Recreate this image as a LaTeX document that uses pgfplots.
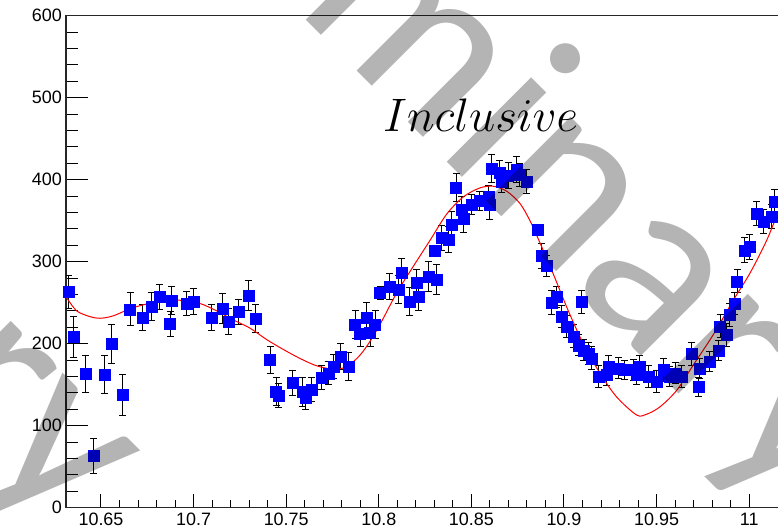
\RequirePackage{fix-cm}
\documentclass[border=0pt]{standalone}
\usepackage{fontspec}
\setmainfont{Liberation Sans}
\newfontfamily\wmfont{Carlito}
\usepackage{pgfplots}
\pgfplotsset{compat=1.18}
\usepackage{pgfplotstable}
\definecolor{wmgray}{RGB}{180,180,180}

\pgfplotstableread{
x y e
10.6323 263 20
10.6350 208 25
10.6418 163 22
10.6462 63 21
10.6520 162 23
10.6556 200 24
10.6615 138 25
10.6657 242 20
10.6723 232 16
10.6774 245 17
10.6815 257 15
10.6873 224 15
10.6882 253 17
10.6963 249 15
10.6998 251 16
10.7098 232 16
10.7157 243 18
10.7187 227 16
10.7241 239 15
10.7295 259 18
10.7335 231 17
10.7413 180 16
10.7445 142 17
10.7460 137 15
10.7535 152 15
10.7589 141 18
10.7605 134 14
10.7638 144 15
10.7690 159 15
10.7727 164 14
10.7755 172 15
10.7794 184 16
10.7838 172 17
10.7872 223 17
10.7899 212 16
10.7935 232 18
10.7953 213 17
10.7980 223 17
10.8007 262 8
10.8060 270 16
10.8105 266 17
10.8124 286 18
10.8168 251 17
10.8205 274 17
10.8213 257 17
10.8267 282 18
10.8312 278 18
10.8303 313 4
10.8339 329 15
10.8375 327 16
10.8393 345 16
10.8417 390 17
10.8447 363 16
10.8456 353 17
10.8501 370 12
10.8546 374 12
10.8592 379 14
10.8600 369 17
10.8610 414 17
10.8654 408 16
10.8663 398 14
10.8698 405 16
10.8745 412 16
10.8762 406 14
10.8800 398 15
10.8860 339 4
10.8879 307 15
10.8906 295 13
10.8934 250 15
10.8960 257 13
10.8988 233 13
10.9015 221 13
10.9050 209 14
10.9077 198 13
10.9096 251 14
10.9105 192 13
10.9132 188 13
10.9150 182 14
10.9186 160 14
10.9231 162 13
10.9240 172 13
10.9294 170 13
10.9329 168 12
10.9374 168 13
10.9392 162 12
10.9410 172 13
10.9455 160 13
10.9500 154 13
10.9536 168 14
10.9572 160 12
10.9600 164 13
10.9635 160 13
10.9690 188 14
10.9725 147 12
10.9734 170 12
10.9788 178 12
10.9833 192 12
10.9843 221 14
10.9878 211 14
10.9896 235 14
10.9923 249 14
10.9935 276 14
10.9977 314 15
11.0004 318 15
11.0040 359 15
11.0076 349 15
11.0120 355 15
11.0138 373 15
}\datatab

\pgfplotstableread{
x y
10.63148 256
10.63688 240
10.64406 233
10.64946 231
10.65664 234
10.66744 244
10.68186 252
10.69266 253
10.70346 249
10.71247 240
10.72144 229
10.73045 219
10.73947 205
10.74843 193
10.75745 182
10.76647 173
10.77543 169
10.78267 172
10.78985 186
10.79617 206
10.80243 231
10.80967 262
10.81685 288
10.82765 326
10.83666 358
10.84563 379
10.85464 390
10.86183 392
10.86906 386
10.87624 371
10.88164 350
10.88704 323
10.89422 285
10.90216 241
10.91042 200
10.91944 164
10.92846 135
10.93925 113
10.94465 114
10.95184 123
10.96085 143
10.96982 174
10.98062 211
10.99142 253
11.00043 286
11.00945 326
11.01555 360
}\fittab

\begin{document}
\begin{tikzpicture}
\begin{axis}[
  scale only axis, width=720.2bp, height=492bp,
  xmin=10.6311, xmax=11.02, ymin=0, ymax=600,
  axis line style={black!85, line width=1.3bp},
  xtick={10.65,10.7,10.75,10.8,10.85,10.9,10.95,11},
  xticklabels={10.65,10.7,10.75,10.8,10.85,10.9,10.95,11},
  ytick={0,100,200,300,400,500,600},
  yticklabels={0,100,200,300,400,500,600},
  minor x tick num=4, minor y tick num=4,
  tick pos=left, tick align=inside,
  tick style={black, line width=1bp},
  every major x tick/.append style={/pgfplots/major tick length=14bp},
  every minor x tick/.append style={/pgfplots/minor tick length=8bp},
  every major y tick/.append style={/pgfplots/major tick length=22bp},
  every minor y tick/.append style={/pgfplots/minor tick length=11.5bp},
  ticklabel style={font=\fontsize{18}{20}\selectfont},
  /pgf/number format/assume math mode=true,
  yticklabel style={inner sep=0pt, xshift=-4bp},
  xticklabel style={inner sep=0pt, yshift=-5bp},
]
\addplot[only marks, mark=square*, mark size=5.5bp, mark options={fill=blue, draw=blue},
  error bars/.cd, y dir=both, y explicit,
  error bar style={black, line width=1bp},
  error mark options={rotate=90, black, mark size=3.5bp, line width=1bp}]
  table[x=x, y=y, y error=e] {\datatab};
\addplot[red, line width=1bp, smooth, no marks] table[x=x, y=y] {\fittab};
\end{axis}
\node[anchor=base west, inner sep=0pt] at (317bp,375.7bp) {\fontsize{47bp}{50bp}\selectfont $Inclusive$};
\begin{scope}[blend mode=multiply]
\node[anchor=base, rotate=-45, inner sep=0pt, text=wmgray] at (318bp,408.7bp) {\wmfont\fontsize{250bp}{250bp}\selectfont Preliminary};
\node[anchor=base, rotate=-45, inner sep=0pt, text=wmgray] at (-419bp,381.7bp) {\wmfont\fontsize{250bp}{250bp}\selectfont Preliminary};
\end{scope}
\pgfresetboundingbox
\useasboundingbox (-66bp,-21.3bp) rectangle (712bp,507.7bp);
\end{tikzpicture}
\end{document}
